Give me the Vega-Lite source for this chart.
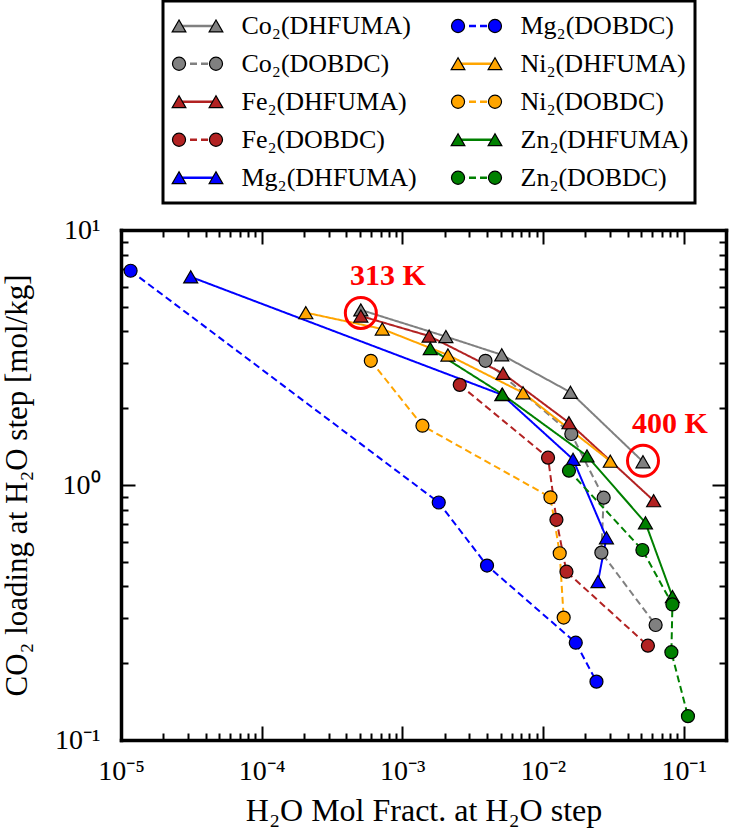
{
  "$schema": "https://vega.github.io/schema/vega-lite/v6.json",
  "width": 605,
  "height": 510,
  "autosize": {"type": "none"},
  "padding": {"left": 121, "top": 230, "right": 3, "bottom": 98},
  "background": "white",
  "config": {
    "font": "Liberation Serif",
    "view": {"stroke": null},
    "legend": {"strokeWidth": 3},
    "axis": {"grid": false, "labelFont": "Liberation Serif", "titleFont": "Liberation Serif", "titleFontWeight": "normal", "labelColor": "black", "titleColor": "black", "tickColor": "black", "domainColor": "black", "domainWidth": 3.5, "domainCap": "square", "tickWidth": 2, "labelOverlap": false, "labelFlush": false}
  },
  "datasets": {
    "pts": [
      {"s": "Co₂(DHFUMA)", "k": "DHFUMA", "x": 0.000507, "y": 4.86},
      {"s": "Co₂(DHFUMA)", "k": "DHFUMA", "x": 0.00204, "y": 3.82},
      {"s": "Co₂(DHFUMA)", "k": "DHFUMA", "x": 0.00509, "y": 3.24},
      {"s": "Co₂(DHFUMA)", "k": "DHFUMA", "x": 0.01567, "y": 2.31},
      {"s": "Co₂(DHFUMA)", "k": "DHFUMA", "x": 0.0514, "y": 1.234},
      {"s": "Co₂(DOBDC)", "k": "DOBDC", "x": 0.0039, "y": 3.07},
      {"s": "Co₂(DOBDC)", "k": "DOBDC", "x": 0.0159, "y": 1.585},
      {"s": "Co₂(DOBDC)", "k": "DOBDC", "x": 0.027, "y": 0.892},
      {"s": "Co₂(DOBDC)", "k": "DOBDC", "x": 0.026, "y": 0.543},
      {"s": "Co₂(DOBDC)", "k": "DOBDC", "x": 0.0632, "y": 0.2825},
      {"s": "Fe₂(DHFUMA)", "k": "DHFUMA", "x": 0.000507, "y": 4.6},
      {"s": "Fe₂(DHFUMA)", "k": "DHFUMA", "x": 0.00155, "y": 3.84},
      {"s": "Fe₂(DHFUMA)", "k": "DHFUMA", "x": 0.0052, "y": 2.74},
      {"s": "Fe₂(DHFUMA)", "k": "DHFUMA", "x": 0.0153, "y": 1.755},
      {"s": "Fe₂(DHFUMA)", "k": "DHFUMA", "x": 0.0612, "y": 0.868},
      {"s": "Fe₂(DOBDC)", "k": "DOBDC", "x": 0.00256, "y": 2.47},
      {"s": "Fe₂(DOBDC)", "k": "DOBDC", "x": 0.01086, "y": 1.28},
      {"s": "Fe₂(DOBDC)", "k": "DOBDC", "x": 0.01246, "y": 0.73},
      {"s": "Fe₂(DOBDC)", "k": "DOBDC", "x": 0.01468, "y": 0.457},
      {"s": "Fe₂(DOBDC)", "k": "DOBDC", "x": 0.0557, "y": 0.2344},
      {"s": "Mg₂(DHFUMA)", "k": "DHFUMA", "x": 0.0000313, "y": 6.55},
      {"s": "Mg₂(DHFUMA)", "k": "DHFUMA", "x": 0.0051, "y": 2.26},
      {"s": "Mg₂(DHFUMA)", "k": "DHFUMA", "x": 0.01635, "y": 1.261},
      {"s": "Mg₂(DHFUMA)", "k": "DHFUMA", "x": 0.02825, "y": 0.621},
      {"s": "Mg₂(DHFUMA)", "k": "DHFUMA", "x": 0.0246, "y": 0.418},
      {"s": "Mg₂(DOBDC)", "k": "DOBDC", "x": 0.0000117, "y": 6.92},
      {"s": "Mg₂(DOBDC)", "k": "DOBDC", "x": 0.001815, "y": 0.854},
      {"s": "Mg₂(DOBDC)", "k": "DOBDC", "x": 0.004, "y": 0.483},
      {"s": "Mg₂(DOBDC)", "k": "DOBDC", "x": 0.0171, "y": 0.2407},
      {"s": "Mg₂(DOBDC)", "k": "DOBDC", "x": 0.024, "y": 0.1694},
      {"s": "Ni₂(DHFUMA)", "k": "DHFUMA", "x": 0.000206, "y": 4.74},
      {"s": "Ni₂(DHFUMA)", "k": "DHFUMA", "x": 0.00072, "y": 4.09},
      {"s": "Ni₂(DHFUMA)", "k": "DHFUMA", "x": 0.00211, "y": 3.235},
      {"s": "Ni₂(DHFUMA)", "k": "DHFUMA", "x": 0.00721, "y": 2.3},
      {"s": "Ni₂(DHFUMA)", "k": "DHFUMA", "x": 0.0301, "y": 1.24},
      {"s": "Ni₂(DOBDC)", "k": "DOBDC", "x": 0.000597, "y": 3.07},
      {"s": "Ni₂(DOBDC)", "k": "DOBDC", "x": 0.00139, "y": 1.708},
      {"s": "Ni₂(DOBDC)", "k": "DOBDC", "x": 0.0113, "y": 0.895},
      {"s": "Ni₂(DOBDC)", "k": "DOBDC", "x": 0.01315, "y": 0.54},
      {"s": "Ni₂(DOBDC)", "k": "DOBDC", "x": 0.01403, "y": 0.302},
      {"s": "Zn₂(DHFUMA)", "k": "DHFUMA", "x": 0.00158, "y": 3.43},
      {"s": "Zn₂(DHFUMA)", "k": "DHFUMA", "x": 0.00515, "y": 2.27},
      {"s": "Zn₂(DHFUMA)", "k": "DHFUMA", "x": 0.02056, "y": 1.3},
      {"s": "Zn₂(DHFUMA)", "k": "DHFUMA", "x": 0.0535, "y": 0.711},
      {"s": "Zn₂(DHFUMA)", "k": "DHFUMA", "x": 0.0832, "y": 0.365},
      {"s": "Zn₂(DOBDC)", "k": "DOBDC", "x": 0.0153, "y": 1.138},
      {"s": "Zn₂(DOBDC)", "k": "DOBDC", "x": 0.0509, "y": 0.556},
      {"s": "Zn₂(DOBDC)", "k": "DOBDC", "x": 0.0832, "y": 0.34},
      {"s": "Zn₂(DOBDC)", "k": "DOBDC", "x": 0.0818, "y": 0.221},
      {"s": "Zn₂(DOBDC)", "k": "DOBDC", "x": 0.1073, "y": 0.124}
    ],
    "ann": [
      {"x": 0.000507, "y": 4.73, "label": "313 K"},
      {"x": 0.0514, "y": 1.245, "label": "400 K"}
    ]
  },
  "layer": [
    {
      "data": {"name": "pts"},
      "mark": {"type": "line", "strokeWidth": 2},
      "encoding": {
        "x": {"field": "x", "type": "quantitative", "scale": {"type": "log", "domain": [0.00001, 0.2]},
          "axis": {"orient": "bottom", "values": [0.00001, 0.0001, 0.001, 0.01, 0.1],
            "tickSize": -14, "labelPadding": 31, "labelFontSize": 28,
            "labelExpr": "'10' + (round(log(datum.value)/LN10) < 0 ? '⁻' : '') + ['⁰','¹','²','³','⁴','⁵'][abs(round(log(datum.value)/LN10))]",
            "title": "H₂O Mol Fract. at H₂O step", "titleFontSize": 32, "titlePadding": 10}},
        "y": {"field": "y", "type": "quantitative", "scale": {"type": "log", "domain": [0.1, 10]},
          "axis": {"orient": "left", "values": [0.1, 1, 10],
            "tickSize": -14, "labelPadding": 35, "labelFontSize": 28,
            "labelExpr": "'10' + (round(log(datum.value)/LN10) < 0 ? '⁻' : '') + ['⁰','¹','²','³','⁴','⁵'][abs(round(log(datum.value)/LN10))]",
            "title": "CO₂ loading at H₂O step [mol/kg]", "titleFontSize": 31, "titlePadding": 21}},
        "color": {"field": "s", "type": "nominal",
          "scale": {"domain": ["Co₂(DHFUMA)","Co₂(DOBDC)","Fe₂(DHFUMA)","Fe₂(DOBDC)","Mg₂(DHFUMA)","Mg₂(DOBDC)","Ni₂(DHFUMA)","Ni₂(DOBDC)","Zn₂(DHFUMA)","Zn₂(DOBDC)"],
            "range": ["#808080","#808080","#B22222","#B22222","#0000FF","#0000FF","#FFA500","#FFA500","#008000","#008000"]},
          "legend": {"orient": "none", "legendX": 42, "legendY": -229, "columns": 2, "title": null,
            "symbolType": "M-1,0L1,0", "symbolSize": 1369, "symbolStrokeWidth": 2.5, "symbolOffset": 8.5, "labelOffset": 24,
            "labelFont": "Liberation Serif", "labelFontSize": 26, "labelColor": "black", "labelLimit": 0,
            "clipHeight": 37.5, "rowPadding": 0, "columnPadding": 31, "padding": 6,
            "strokeColor": "black", "fillColor": "white"}},
        "strokeDash": {"field": "s", "type": "nominal",
          "scale": {"domain": ["Co₂(DHFUMA)","Co₂(DOBDC)","Fe₂(DHFUMA)","Fe₂(DOBDC)","Mg₂(DHFUMA)","Mg₂(DOBDC)","Ni₂(DHFUMA)","Ni₂(DOBDC)","Zn₂(DHFUMA)","Zn₂(DOBDC)"],
            "range": [[1,0],[7,4],[1,0],[7,4],[1,0],[7,4],[1,0],[7,4],[1,0],[7,4]]}},
        "order": {"field": "y", "sort": "descending"}
      }
    },
    {
      "data": {"name": "pts"},
      "mark": {"type": "point", "filled": true, "stroke": "black", "strokeWidth": 1.2, "opacity": 1},
      "encoding": {
        "x": {"field": "x", "type": "quantitative", "scale": {"type": "log", "domain": [0.00001, 0.2]},
          "axis": {"orient": "top", "values": [0.00001, 0.0001, 0.001, 0.01, 0.1], "tickSize": -14, "labels": false, "title": null}},
        "y": {"field": "y", "type": "quantitative", "scale": {"type": "log", "domain": [0.1, 10]},
          "axis": {"orient": "right", "values": [0.1, 1, 10], "tickSize": -14, "labels": false, "title": null}},
        "color": {"field": "s", "type": "nominal",
          "scale": {"domain": ["Co₂(DHFUMA)","Co₂(DOBDC)","Fe₂(DHFUMA)","Fe₂(DOBDC)","Mg₂(DHFUMA)","Mg₂(DOBDC)","Ni₂(DHFUMA)","Ni₂(DOBDC)","Zn₂(DHFUMA)","Zn₂(DOBDC)"],
            "range": ["#808080","#808080","#B22222","#B22222","#0000FF","#0000FF","#FFA500","#FFA500","#008000","#008000"]},
          "legend": null},
        "shape": {"field": "k", "type": "nominal", "scale": {"domain": ["DHFUMA", "DOBDC"], "range": ["triangle-up", "circle"]}, "legend": null},
        "size": {"field": "k", "type": "nominal", "scale": {"domain": ["DHFUMA", "DOBDC"], "range": [196, 169]}, "legend": null}
      }
    },
    {
      "data": {"name": "ann"},
      "mark": {"type": "point", "shape": "circle", "size": 961, "filled": false, "stroke": "red", "strokeWidth": 3, "opacity": 1},
      "encoding": {
        "x": {"field": "x", "type": "quantitative", "scale": {"type": "log", "domain": [0.00001, 0.2]},
          "axis": {"orient": "bottom", "values": [0.00002,0.00003,0.00004,0.00005,0.00006,0.00007,0.00008,0.00009,0.0002,0.0003,0.0004,0.0005,0.0006,0.0007,0.0008,0.0009,0.002,0.003,0.004,0.005,0.006,0.007,0.008,0.009,0.02,0.03,0.04,0.05,0.06,0.07,0.08,0.09],
            "tickSize": -7, "labels": false, "domain": false, "title": null}},
        "y": {"field": "y", "type": "quantitative", "scale": {"type": "log", "domain": [0.1, 10]},
          "axis": {"orient": "left", "values": [0.2,0.3,0.4,0.5,0.6,0.7,0.8,0.9,2,3,4,5,6,7,8,9],
            "tickSize": -7, "labels": false, "domain": false, "title": null}}
      }
    },
    {
      "data": {"name": "ann"},
      "mark": {"type": "text", "font": "Liberation Serif", "fontWeight": "bold", "fontSize": 30, "color": "red", "dx": 27, "dy": -37, "align": "center", "baseline": "middle"},
      "encoding": {
        "x": {"field": "x", "type": "quantitative", "scale": {"type": "log", "domain": [0.00001, 0.2]},
          "axis": {"orient": "top", "values": [0.00002,0.00003,0.00004,0.00005,0.00006,0.00007,0.00008,0.00009,0.0002,0.0003,0.0004,0.0005,0.0006,0.0007,0.0008,0.0009,0.002,0.003,0.004,0.005,0.006,0.007,0.008,0.009,0.02,0.03,0.04,0.05,0.06,0.07,0.08,0.09],
            "tickSize": -7, "labels": false, "domain": false, "title": null}},
        "y": {"field": "y", "type": "quantitative", "scale": {"type": "log", "domain": [0.1, 10]},
          "axis": {"orient": "right", "values": [0.2,0.3,0.4,0.5,0.6,0.7,0.8,0.9,2,3,4,5,6,7,8,9],
            "tickSize": -7, "labels": false, "domain": false, "title": null}},
        "text": {"field": "label"}
      }
    },
    {
      "data": {"name": "pts"},
      "mark": {"type": "point", "filled": true, "stroke": "black", "strokeWidth": 1.2, "opacity": 0},
      "encoding": {
        "x": {"field": "x", "type": "quantitative", "scale": {"type": "log", "domain": [0.00001, 0.2]}, "axis": null},
        "y": {"field": "y", "type": "quantitative", "scale": {"type": "log", "domain": [0.1, 10]}, "axis": null},
        "color": {"field": "s", "type": "nominal",
          "scale": {"domain": ["Co₂(DHFUMA)","Co₂(DOBDC)","Fe₂(DHFUMA)","Fe₂(DOBDC)","Mg₂(DHFUMA)","Mg₂(DOBDC)","Ni₂(DHFUMA)","Ni₂(DOBDC)","Zn₂(DHFUMA)","Zn₂(DOBDC)"],
            "range": ["#808080","#808080","#B22222","#B22222","#0000FF","#0000FF","#FFA500","#FFA500","#008000","#008000"]},
          "legend": {"orient": "none", "legendX": 42, "legendY": -229, "columns": 2, "title": null,
            "symbolSize": 1482, "symbolStrokeWidth": 1.2, "symbolStrokeColor": "black", "symbolFillColor": "white", "symbolOpacity": 1, "symbolOffset": 8.5, "labelOffset": 24,
            "labelFont": "Liberation Serif", "labelFontSize": 26, "labelOpacity": 0, "labelLimit": 0,
            "clipHeight": 37.5, "rowPadding": 0, "columnPadding": 31, "padding": 6, "strokeColor": null, "fillColor": null}},
        "shape": {"field": "s", "type": "nominal",
          "scale": {"domain": ["Co₂(DHFUMA)","Co₂(DOBDC)","Fe₂(DHFUMA)","Fe₂(DOBDC)","Mg₂(DHFUMA)","Mg₂(DOBDC)","Ni₂(DHFUMA)","Ni₂(DOBDC)","Zn₂(DHFUMA)","Zn₂(DOBDC)"],
            "range": [
              "M-0.96,-0.31L-1.316,0.31L-0.604,0.31Z M0.96,-0.31L0.604,0.31L1.316,0.31Z",
              "M-0.62,0A0.34,0.34,0,1,1,-1.3,0A0.34,0.34,0,1,1,-0.62,0Z M1.3,0A0.34,0.34,0,1,1,0.62,0A0.34,0.34,0,1,1,1.3,0Z",
              "M-0.96,-0.31L-1.316,0.31L-0.604,0.31Z M0.96,-0.31L0.604,0.31L1.316,0.31Z",
              "M-0.62,0A0.34,0.34,0,1,1,-1.3,0A0.34,0.34,0,1,1,-0.62,0Z M1.3,0A0.34,0.34,0,1,1,0.62,0A0.34,0.34,0,1,1,1.3,0Z",
              "M-0.96,-0.31L-1.316,0.31L-0.604,0.31Z M0.96,-0.31L0.604,0.31L1.316,0.31Z",
              "M-0.62,0A0.34,0.34,0,1,1,-1.3,0A0.34,0.34,0,1,1,-0.62,0Z M1.3,0A0.34,0.34,0,1,1,0.62,0A0.34,0.34,0,1,1,1.3,0Z",
              "M-0.96,-0.31L-1.316,0.31L-0.604,0.31Z M0.96,-0.31L0.604,0.31L1.316,0.31Z",
              "M-0.62,0A0.34,0.34,0,1,1,-1.3,0A0.34,0.34,0,1,1,-0.62,0Z M1.3,0A0.34,0.34,0,1,1,0.62,0A0.34,0.34,0,1,1,1.3,0Z",
              "M-0.96,-0.31L-1.316,0.31L-0.604,0.31Z M0.96,-0.31L0.604,0.31L1.316,0.31Z",
              "M-0.62,0A0.34,0.34,0,1,1,-1.3,0A0.34,0.34,0,1,1,-0.62,0Z M1.3,0A0.34,0.34,0,1,1,0.62,0A0.34,0.34,0,1,1,1.3,0Z"
            ]},
          "legend": {"orient": "none", "legendX": 42, "legendY": -229, "columns": 2, "title": null,
            "symbolSize": 1482, "symbolStrokeWidth": 1.2, "symbolStrokeColor": "black", "symbolFillColor": "white", "symbolOpacity": 1, "symbolOffset": 8.5, "labelOffset": 24,
            "labelFont": "Liberation Serif", "labelFontSize": 26, "labelOpacity": 0, "labelLimit": 0,
            "clipHeight": 37.5, "rowPadding": 0, "columnPadding": 31, "padding": 6, "strokeColor": null, "fillColor": null}}
      }
    }
  ],
  "resolve": {
    "scale": {"color": "independent", "strokeDash": "independent", "shape": "independent", "size": "independent"},
    "axis": {"x": "independent", "y": "independent"},
    "legend": {"color": "independent", "shape": "independent"}
  }
}
